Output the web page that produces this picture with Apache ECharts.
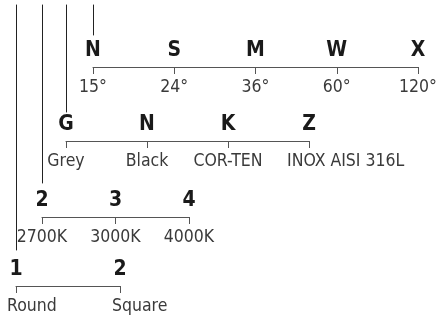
<!doctype html>
<html>
<head>
<meta charset="utf-8">
<title>Product code</title>
<script src="https://cdn.jsdelivr.net/npm/echarts@6/dist/echarts.min.js"></script>
<style>
  html, body { margin: 0; padding: 0; background: #fff; }
  #chart { width: 444px; height: 316px; }
</style>
</head>
<body>
<div id="chart"></div>
<script>
// one pair of arrays per step of the code, top to bottom
var beamCodes = ['N', 'S', 'M', 'W', 'X'];
var beamLabels = ['15°', '24°', '36°', '60°', '120°'];
var finishCodes = ['G', 'N', 'K', 'Z'];
var finishLabels = ['Grey', 'Black', 'COR-TEN', 'INOX AISI 316L'];
var cctCodes = ['2', '3', '4'];
var cctLabels = ['2700K', '3000K', '4000K'];
var shapeCodes = ['1', '2'];
var shapeLabels = ['Round', 'Square'];

// layout of each row (pixels): bracket ends, bracket line, end of the stem above
var rows = [
  { codes: beamCodes, labels: beamLabels, left: 93, right: 418, lineY: 67, stemEnd: 35, shift: [0, 0, 0, 0, 0] },
  { codes: finishCodes, labels: finishLabels, left: 66, right: 309, lineY: 141, stemEnd: 112, shift: [0, 0, 0, -22] },
  { codes: cctCodes, labels: cctLabels, left: 42, right: 189, lineY: 217, stemEnd: 183, shift: [0, 0, 0] },
  { codes: shapeCodes, labels: shapeLabels, left: 16, right: 120, lineY: 286, stemEnd: 250, shift: [-9, -8] }
];

var font = "'Liberation Sans Narrow', 'DejaVu Sans Condensed', 'Roboto Condensed', sans-serif";
var lineColor = '#555';

var grid = [], xAxis = [], yAxis = [];
rows.forEach(function (r) {
  // bracket row
  var g = grid.length;
  grid.push({ left: r.left, width: r.right - r.left, top: r.lineY - 10, height: 10 });
  xAxis.push({
    type: 'category', gridIndex: g, position: 'bottom', boundaryGap: false,
    data: r.labels.map(function (t, i) {
      return r.shift[i] ? { value: t, textStyle: { align: 'left', padding: [0, 0, 0, r.shift[i]] } } : t;
    }),
    axisLine: { show: true, lineStyle: { color: lineColor, width: 1 } },
    axisTick: { show: true, length: 7, lineStyle: { color: lineColor } },
    axisLabel: { interval: 0, margin: 11, fontSize: 17.5, color: '#3a3a3a', fontFamily: font }
  });
  xAxis.push({
    type: 'category', gridIndex: g, position: 'bottom', boundaryGap: false,
    data: r.codes,
    axisLine: { show: false }, axisTick: { show: false },
    axisLabel: { inside: true, interval: 0, margin: 6, fontSize: 21, fontWeight: 'bold', color: '#1a1a1a', fontFamily: font }
  });
  yAxis.push({ type: 'value', gridIndex: g, show: false });

  // stem coming down to the first code of the row
  var s = grid.length;
  grid.push({ left: r.left, width: 10, top: 5, height: r.stemEnd - 5 });
  xAxis.push({ type: 'value', gridIndex: s, show: false, min: 0, max: 1 });
  yAxis.push({
    type: 'value', gridIndex: s, min: 0, max: 1,
    axisLine: { show: true, onZero: false, lineStyle: { color: '#222', width: 1 } },
    axisTick: { show: false }, axisLabel: { show: false }, splitLine: { show: false }
  });
});

var chart = echarts.init(document.getElementById('chart'));
chart.setOption({
  animation: false,
  grid: grid,
  xAxis: xAxis,
  yAxis: yAxis,
  series: []
});
</script>
</body>
</html>
